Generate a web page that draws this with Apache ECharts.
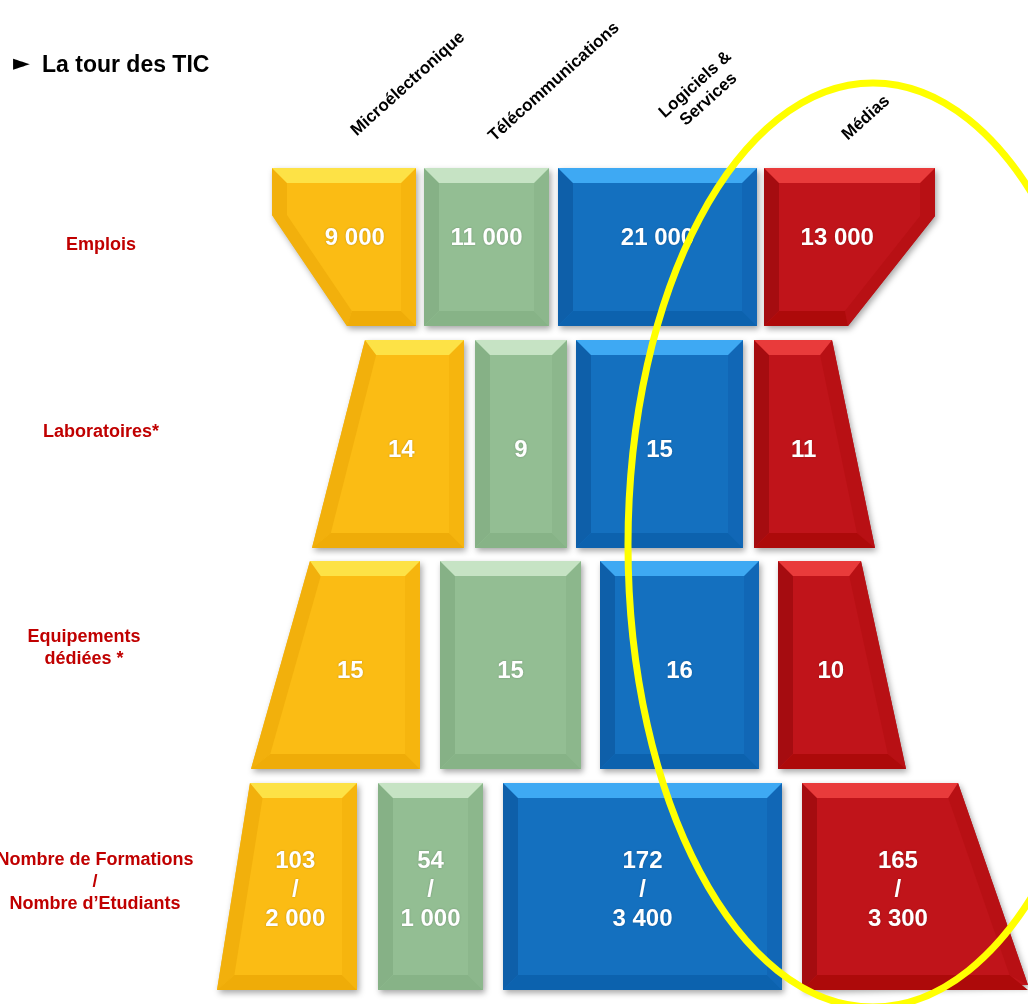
<!DOCTYPE html>
<html><head><meta charset="utf-8">
<script src="https://cdn.jsdelivr.net/npm/echarts@6/dist/echarts.min.js"></script>
<style>html,body{margin:0;padding:0;background:#fff}#c{width:1028px;height:1004px}</style>
</head><body><div id="c"></div>
<script>
// ---------- DATA ----------
const chartTitle = 'La tour des TIC';
const sectors = ['Microélectronique', 'Télécommunications', 'Logiciels &\nServices', 'Médias'];
const rowLabels = ['Emplois', 'Laboratoires*', 'Equipements\ndédiées *', 'Nombre de Formations\n/\nNombre d\u2019Etudiants'];
const emplois = [9000, 11000, 21000, 13000];
const laboratoires = [14, 9, 15, 11];
const equipements = [15, 15, 16, 10];
const formations = [103, 54, 172, 165];
const etudiants = [2000, 1000, 3400, 3300];

// ---------- LAYOUT (units of the hidden page axes) ----------
const rowBands = [[168, 326], [340, 548], [561, 769], [783, 990]];
const rowTextY = [238, 450, 671, 890];
// per row, per column: [left edge points, right edge points], top -> bottom
const cellEdges = [
  [
    [[[272, 168], [272, 215], [347, 326]], [[416, 168], [416, 326]]],
    [[[424, 168], [424, 326]], [[549, 168], [549, 326]]],
    [[[558, 168], [558, 326]], [[757, 168], [757, 326]]],
    [[[764, 168], [764, 326]], [[935, 168], [935, 216], [848, 326]]]
  ],
  [
    [[[365, 340], [312, 548]], [[464, 340], [464, 548]]],
    [[[475, 340], [475, 548]], [[567, 340], [567, 548]]],
    [[[576, 340], [576, 548]], [[743, 340], [743, 548]]],
    [[[754, 340], [754, 548]], [[832, 340], [875, 548]]]
  ],
  [
    [[[310, 561], [251, 769]], [[420, 561], [420, 769]]],
    [[[440, 561], [440, 769]], [[581, 561], [581, 769]]],
    [[[600, 561], [600, 769]], [[759, 561], [759, 769]]],
    [[[778, 561], [778, 769]], [[861, 561], [906, 769]]]
  ],
  [
    [[[250, 783], [217, 990]], [[357, 783], [357, 990]]],
    [[[378, 783], [378, 990]], [[483, 783], [483, 990]]],
    [[[503, 783], [503, 990]], [[782, 783], [782, 990]]],
    [[[802, 783], [802, 990]], [[958, 783], [1028, 985]]]
  ]
];
const rowLabelPos = [[101, 245], [101, 432], [84, 648], [95, 882]];
const headerPos = [[408, 84], [554, 82], [702, 92], [866, 118]];
const palette = [
  {face: '#fbbc14', top: '#fde246', left: '#f2b00c', right: '#f6b50e', bottom: '#efac08'},
  {face: '#93be93', top: '#c6e3c4', left: '#86b186', right: '#8cb78c', bottom: '#87b387'},
  {face: '#1470bf', top: '#3ea9f3', left: '#0e5fa9', right: '#1167b6', bottom: '#0c62ae'},
  {face: '#c0141a', top: '#e93b3b', left: '#a50c10', right: '#b81014', bottom: '#ad0a0a'}
];

const fmt = n => String(n).replace(/\B(?=(\d{3})+(?!\d))/g, '\u00a0');
const rowsText = [
  emplois.map(fmt),
  laboratoires.map(String),
  equipements.map(String),
  formations.map((f, i) => f + '\n/\n' + fmt(etudiants[i]))
];
const cellData = [];
rowsText.forEach((row, r) => row.forEach((t, c) => cellData.push([c, r])));

function edgeX(pts, y) {
  if (y <= pts[0][1]) return pts[0][0];
  for (let i = 1; i < pts.length; i++) {
    if (y <= pts[i][1]) {
      const [x0, y0] = pts[i - 1], [x1, y1] = pts[i];
      return x0 + (x1 - x0) * (y - y0) / (y1 - y0);
    }
  }
  return pts[pts.length - 1][0];
}
const B = 15;
function renderCell(params, api) {
  const c = api.value(0), r = api.value(1);
  const [L, R] = cellEdges[r][c];
  const [t, bo] = rowBands[r];
  const col = palette[c];
  const P = p => api.coord(p);
  const outer = L.map(p => p).concat(R.slice().reverse());
  const innerYs = ys => {
    const a = [t + B];
    ys.forEach(y => { if (y > t + B && y < bo - B) a.push(y); });
    a.push(bo - B);
    return a;
  };
  const lYs = innerYs(L.map(p => p[1]));
  const rYs = innerYs(R.map(p => p[1]));
  const innerL = lYs.map(y => [edgeX(L, y) + B, y]);
  const innerR = rYs.map(y => [edgeX(R, y) - B, y]);
  const topBand = [[edgeX(L, t), t], [edgeX(R, t), t], [edgeX(R, t + B) - B, t + B], [edgeX(L, t + B) + B, t + B]];
  const botBand = [[edgeX(L, bo), bo], [edgeX(R, bo), bo], [edgeX(R, bo - B) - B, bo - B], [edgeX(L, bo - B) + B, bo - B]];
  const leftBand = L.concat(innerL.slice().reverse());
  const rightBand = R.concat(innerR.slice().reverse());
  const poly = (pts, fill, extra) => Object.assign({type: 'polygon', shape: {points: pts.map(P)}, style: {fill: fill}}, extra || {});
  const midY = (t + bo) / 2;
  const cx = (edgeX(L, midY) + edgeX(R, midY)) / 2;
  const tp = P([cx, rowTextY[r]]);
  return {
    type: 'group',
    children: [
      poly(outer, col.face, {style: {fill: col.face, shadowBlur: 6, shadowOffsetX: 2, shadowOffsetY: 3, shadowColor: 'rgba(0,0,0,0.35)'}}),
      poly(leftBand, col.left),
      poly(rightBand, col.right),
      poly(botBand, col.bottom),
      poly(topBand, col.top),
      {
        type: 'text', x: tp[0], y: tp[1],
        style: {
          text: rowsText[r][c], fill: '#ffffff', align: 'center', verticalAlign: 'middle',
          font: 'bold 24px "Liberation Sans", Arial, sans-serif', lineHeight: 29,
          textShadowBlur: 2, textShadowColor: 'rgba(0,0,0,0.25)'
        }
      }
    ]
  };
}

const chart = echarts.init(document.getElementById('c'), null, {renderer: 'canvas'});
chart.setOption({
  animation: false,
  backgroundColor: '#ffffff',
  grid: {left: 0, right: 0, top: 0, bottom: 0},
  xAxis: {type: 'value', min: 0, max: 1028, show: false},
  yAxis: {type: 'value', min: 0, max: 1004, inverse: true, show: false},
  series: [
    {
      type: 'custom', name: 'cells', coordinateSystem: 'cartesian2d',
      data: cellData, renderItem: renderCell, clip: false, z: 2
    },
    {
      type: 'custom', name: 'rows', coordinateSystem: 'cartesian2d',
      data: rowLabels.map((_, i) => [i, 0]), clip: false, z: 3,
      renderItem: (params, api) => {
        const i = api.value(0);
        const p = api.coord(rowLabelPos[i]);
        return {type: 'text', x: p[0], y: p[1], style: {
          text: rowLabels[i], fill: '#c00000', align: 'center', verticalAlign: 'middle',
          font: 'bold 18px "Liberation Sans", Arial, sans-serif', lineHeight: 22
        }};
      }
    },
    {
      type: 'custom', name: 'headers', coordinateSystem: 'cartesian2d',
      data: sectors.map((_, i) => [i, 0]), clip: false, z: 3,
      renderItem: (params, api) => {
        const i = api.value(0);
        const p = api.coord(headerPos[i]);
        return {type: 'text', x: p[0], y: p[1], rotation: 42 * Math.PI / 180, style: {
          text: sectors[i], fill: '#000000', align: 'center', verticalAlign: 'middle',
          font: 'bold 17px "Liberation Sans", Arial, sans-serif', lineHeight: 20
        }};
      }
    }
  ],
  graphic: [
    {type: 'text', left: 13, top: 53, style: {text: '\u25BA', fill: '#000', font: '22px "DejaVu Sans", sans-serif'}},
    {type: 'text', left: 42, top: 54, style: {text: chartTitle, fill: '#000', font: 'bold 23px "Liberation Sans", Arial, sans-serif'}},
    {type: 'ellipse', z: 100, shape: {cx: 873, cy: 545, rx: 245, ry: 462},
     style: {fill: 'none', stroke: '#ffff00', lineWidth: 7}}
  ]
});
</script></body></html>
